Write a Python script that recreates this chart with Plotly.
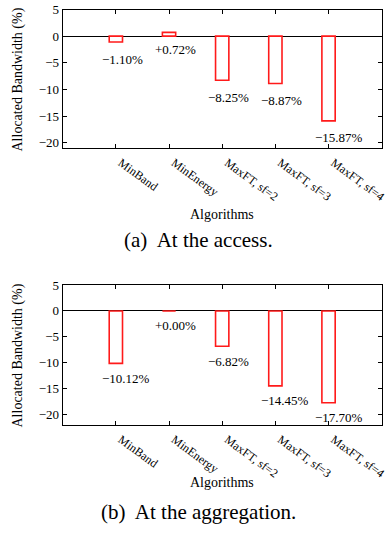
import plotly.graph_objects as go

algorithms = ["MinBand", "MinEnergy", "MaxFT, sf=2", "MaxFT, sf=3", "MaxFT, sf=4"]
access_values = [-1.10, 0.72, -8.25, -8.87, -15.87]
aggregation_values = [-10.12, 0.00, -6.82, -14.45, -17.70]
y_ticks = [5, 0, -5, -10, -15, -20]
captions = ["(a)  At the access.", "(b)  At the aggregation."]

W, H = 387, 535
FONT = "Liberation Serif"
RED = "#ff1a1a"

def fmt(v):
    s = f"{abs(v):.2f}%"
    return ("+" if v >= 0 else "\u2212") + s

fig = go.Figure()
xs = list(range(len(algorithms)))

for i, vals in enumerate([access_values, aggregation_values]):
    xa = "x" if i == 0 else "x2"
    ya = "y" if i == 0 else "y2"
    fig.add_trace(go.Bar(
        x=xs, y=vals, width=0.25, xaxis=xa, yaxis=ya,
        marker=dict(color="white", line=dict(color=RED, width=1.6)),
        showlegend=False, hoverinfo="skip"))

axis_common = dict(showline=True, linecolor="black", linewidth=1.2, mirror="allticks",
                   ticks="inside", ticklen=4, tickcolor="black", tickwidth=1,
                   showgrid=False)
tick_font = dict(family=FONT, size=13, color="black")
xaxis_extra = dict(range=[-1, 5], tickvals=xs, ticktext=algorithms, tickangle=36,
                   zeroline=False, ticklabeloverflow="allow", automargin=False,
                   ticklabelshift=5, ticklabelstandoff=2,
                   tickfont=dict(family=FONT, size=12, color="black"))

x_dom = [62.7 / W, 381.7 / W]
y_doms = [[1 - 148.2 / H, 1 - 9.5 / H], [1 - 425 / H, 1 - 285 / H]]
y_ranges = [[-21, 5], [-22, 5]]

fig.update_layout(
    width=W, height=H, margin=dict(l=0, r=0, t=0, b=0),
    paper_bgcolor="white", plot_bgcolor="white",
    xaxis=dict(domain=x_dom, anchor="y", **xaxis_extra, **axis_common),
    yaxis=dict(domain=y_doms[0], anchor="x", range=y_ranges[0], tickvals=y_ticks,
               zeroline=True, zerolinecolor="black", zerolinewidth=1, automargin=False,
               tickfont=tick_font, **axis_common),
    xaxis2=dict(domain=x_dom, anchor="y2", **xaxis_extra, **axis_common),
    yaxis2=dict(domain=y_doms[1], anchor="x2", range=y_ranges[1], tickvals=y_ticks,
                zeroline=True, zerolinecolor="black", zerolinewidth=1, automargin=False,
                tickfont=tick_font, **axis_common),
)

annots = []
label_shift = [-17, -15]
for i, vals in enumerate([access_values, aggregation_values]):
    xr = "x" if i == 0 else "x2"
    yr = "y" if i == 0 else "y2"
    for x, v in zip(xs, vals):
        annots.append(dict(x=x, y=v, xref=xr, yref=yr, text=fmt(v), showarrow=False,
                           xanchor="left", yanchor="middle", xshift=-16, yshift=label_shift[i],
                           font=dict(family=FONT, size=13, color="black")))

# axis titles and captions
y_title_centers = [80, 356]
alg_centers = [214, 482]
cap_centers = [240, 512]
for i in range(2):
    annots.append(dict(x=17.5 / W, y=1 - y_title_centers[i] / H, xref="paper", yref="paper",
                       text="Allocated Bandwidth (%)", textangle=-90, showarrow=False,
                       xanchor="center", yanchor="middle",
                       font=dict(family=FONT, size=14, color="black")))
    annots.append(dict(x=222 / W, y=1 - alg_centers[i] / H, xref="paper", yref="paper",
                       text="Algorithms", showarrow=False, xanchor="center", yanchor="middle",
                       font=dict(family=FONT, size=14, color="black")))
    annots.append(dict(x=198 / W, y=1 - cap_centers[i] / H, xref="paper", yref="paper",
                       text=captions[i], showarrow=False, xanchor="center", yanchor="middle",
                       font=dict(family=FONT, size=21, color="black")))

fig.update_layout(annotations=annots)
fig.write_html("out.html", config={"displayModeBar": False},
               post_script="document.body.style.margin='0px';")
